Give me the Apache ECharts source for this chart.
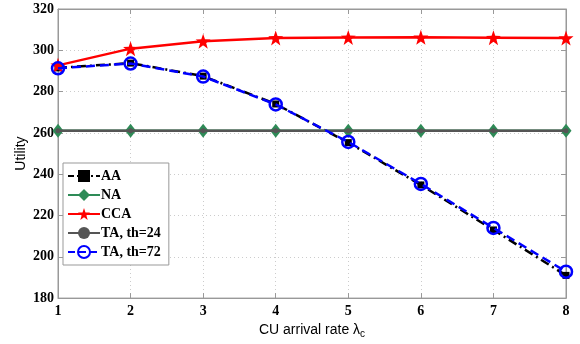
<!DOCTYPE html>
<html>
<head>
<meta charset="utf-8">
<script src="https://cdn.jsdelivr.net/npm/echarts@6/dist/echarts.min.js"></script>
<style>
  html, body { margin: 0; padding: 0; background: #fff; }
  #chart { width: 580px; height: 344px; }
</style>
</head>
<body>
<div id="chart"></div>
<script>
// arrival rate lambda_c
const rates = [1, 2, 3, 4, 5, 6, 7, 8]
const aaValues = [291.5, 293.8, 287.5, 274.0, 255.3, 234.8, 213.0, 191.0]
const naValues = [261, 261, 261, 261, 261, 261, 261, 261]
const ccaValues = [292.7, 300.8, 304.4, 306.0, 306.2, 306.3, 306.1, 305.9]
const ta24Values = [261, 261, 261, 261, 261, 261, 261, 261]
const ta72Values = [291.3, 293.6, 287.3, 273.8, 255.6, 235.3, 214.0, 192.8]
const seriesNames = ['AA', 'NA', 'CCA', 'TA, th=24', 'TA, th=72']

const pairs = vals => rates.map((r, i) => [r, vals[i]])
const tickFont = { fontFamily: 'Liberation Serif', fontWeight: 'bold', fontSize: 14, color: '#000' }
const dashDot = [6, 3, 2, 3]
const dashed = [7, 4]

const chart = echarts.init(document.getElementById('chart'))
chart.setOption({
  animation: false,
  grid: { left: 58, right: 14, top: 9, bottom: 39, show: true, borderColor: '#999', borderWidth: 1 },
  legend: {
    data: [
      { name: 'AA', lineStyle: { type: dashDot } },
      { name: 'NA' },
      { name: 'CCA' },
      { name: 'TA, th=24' },
      { name: 'TA, th=72', lineStyle: { type: dashed } }
    ],
    orient: 'vertical',
    left: 63,
    top: 163,
    padding: [6, 8, 6, 4],
    itemGap: 5,
    itemWidth: 32,
    itemHeight: 15,
    backgroundColor: '#fff',
    borderColor: '#999',
    borderWidth: 1,
    textStyle: { fontFamily: 'Liberation Serif', fontWeight: 'bold', fontSize: 14, color: '#000', padding: [0, 0, 0, -4] }
  },
  xAxis: [{
    type: 'value',
    min: 1, max: 8, interval: 1,
    name: 'CU arrival rate {l|λ}{s|c}',
    nameLocation: 'middle',
    nameGap: 20,
    nameTextStyle: {
      fontFamily: 'Liberation Sans', fontSize: 14, color: '#000',
      rich: { l: { fontFamily: 'Liberation Sans', fontSize: 14, color: '#000' },
              s: { fontFamily: 'Liberation Sans', fontSize: 10, color: '#000', verticalAlign: 'bottom', padding: [8, 0, 0, 0] } }
    },
    axisLine: { show: true, lineStyle: { color: '#999' } },
    axisTick: { show: true, inside: true, length: 5, lineStyle: { color: '#999' } },
    axisLabel: Object.assign({ margin: 6 }, tickFont),
    splitLine: { show: true, lineStyle: { color: '#ccc', type: [1, 3] } }
  }, {
    type: 'value', position: 'top',
    min: 1, max: 8, interval: 1,
    axisLine: { show: true, lineStyle: { color: '#999' } },
    axisTick: { show: true, inside: true, length: 5, lineStyle: { color: '#999' } },
    axisLabel: { show: false },
    splitLine: { show: false }
  }],
  yAxis: [{
    type: 'value',
    min: 180, max: 320, interval: 20,
    name: 'Utility',
    nameLocation: 'middle',
    nameGap: 30,
    nameMoveOverlap: false,
    nameTextStyle: { fontFamily: 'Liberation Sans', fontSize: 14, color: '#000' },
    axisLine: { show: true, lineStyle: { color: '#999' } },
    axisTick: { show: true, inside: true, length: 5, lineStyle: { color: '#999' } },
    axisLabel: Object.assign({ margin: 4 }, tickFont),
    splitLine: { show: true, lineStyle: { color: '#ccc', type: [1, 3] } }
  }, {
    type: 'value', position: 'right',
    min: 180, max: 320, interval: 20,
    axisLine: { show: true, lineStyle: { color: '#999' } },
    axisTick: { show: true, inside: true, length: 5, lineStyle: { color: '#999' } },
    axisLabel: { show: false },
    splitLine: { show: false }
  }],
  series: [
    {
      name: 'AA', type: 'line', data: pairs(aaValues), z: 2,
      symbol: 'rect', symbolSize: 7,
      lineStyle: { color: '#000', width: 2.5, type: [9, 4, 2, 4] },
      itemStyle: { color: '#000' }
    },
    {
      name: 'NA', type: 'line', data: pairs(naValues), z: 2,
      symbol: 'diamond', symbolSize: [11, 14],
      lineStyle: { color: '#2e8b57', width: 2.5 },
      itemStyle: { color: '#2e8b57' }
    },
    {
      name: 'CCA', type: 'line', data: pairs(ccaValues), z: 3,
      symbol: 'path://M0,-10 L2.35,-3.24 L9.51,-3.09 L3.8,1.24 L5.88,8.09 L0,4 L-5.88,8.09 L-3.8,1.24 L-9.51,-3.09 L-2.35,-3.24 Z',
      symbolSize: 15,
      lineStyle: { color: '#ff0000', width: 2.5 },
      itemStyle: { color: '#ff0000' }
    },
    {
      name: 'TA, th=24', type: 'line', data: pairs(ta24Values), z: 3,
      symbol: 'circle', symbolSize: 5,
      lineStyle: { color: '#555', width: 2.5 },
      itemStyle: { color: '#555' }
    },
    {
      name: 'TA, th=72', type: 'line', data: pairs(ta72Values), z: 4,
      symbol: 'circle', symbolSize: 12,
      lineStyle: { color: '#0000ff', width: 2.5, type: [9, 5] },
      itemStyle: { color: 'rgba(255,255,255,0)', borderColor: '#0000ff', borderWidth: 2.5 }
    }
  ]
})
</script>
</body>
</html>
